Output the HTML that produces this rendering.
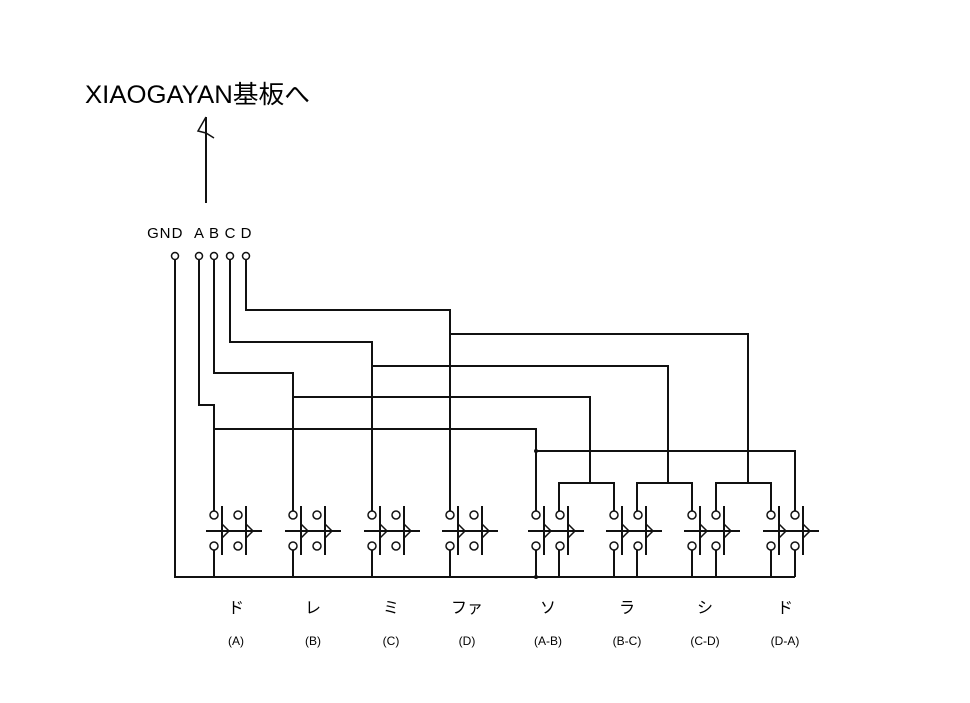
<!DOCTYPE html>
<html><head><meta charset="utf-8"><style>
html,body{margin:0;padding:0;background:#fff;}
svg{display:block;}
text{font-family:"Liberation Sans","Noto Sans CJK JP",sans-serif;fill:#000;}
</style></head><body>
<svg width="970" height="703" viewBox="0 0 970 703" xmlns="http://www.w3.org/2000/svg">
<defs>
<g id="sw" fill="none" stroke="#111" stroke-width="2">
  <line x1="-8" y1="0" x2="48" y2="0"/>
  <line x1="8" y1="-25" x2="8" y2="24"/>
  <line x1="32" y1="-25" x2="32" y2="24"/>
  <polyline points="8,-7 15,0 8,7" stroke-width="1.5"/>
  <polyline points="32,-7 39,0 32,7" stroke-width="1.5"/>
  <circle cx="0" cy="-16" r="4" stroke-width="1.5"/>
  <circle cx="0" cy="15" r="4" stroke-width="1.5"/>
  <circle cx="24" cy="-16" r="4" stroke-width="1.5"/>
  <circle cx="24" cy="15" r="4" stroke-width="1.5"/>
</g>
</defs>
<text x="85" y="103" font-size="25" textLength="225" lengthAdjust="spacingAndGlyphs">XIAOGAYAN基板へ</text>
<g fill="none" stroke="#111" stroke-width="2">
  <line x1="206" y1="117" x2="206" y2="203"/>
  <polyline points="206,117 198,131 206,133 214,138" stroke-width="1.5"/>
</g>
<g font-size="15" text-anchor="middle">
  <text x="153" y="238">G</text><text x="165" y="238">N</text><text x="177" y="238">D</text>
  <text x="199" y="238">A</text><text x="214" y="238">B</text><text x="230" y="238">C</text><text x="246" y="238">D</text>
</g>
<g fill="none" stroke="#111" stroke-width="1.5">
  <circle cx="175" cy="256" r="3.5"/><circle cx="199" cy="256" r="3.5"/><circle cx="214" cy="256" r="3.5"/><circle cx="230" cy="256" r="3.5"/><circle cx="246" cy="256" r="3.5"/>
</g>
<g fill="none" stroke="#111" stroke-width="2">
  <polyline points="175,260 175,577 795,577"/>
  <polyline points="199,260 199,405 214,405 214,511"/>
  <polyline points="214,429 536,429 536,511"/>
  <polyline points="536,451 795,451 795,511"/>
  <polyline points="214,260 214,373 293,373 293,511"/>
  <polyline points="293,397 590,397 590,483"/>
  <polyline points="230,260 230,342 372,342 372,511"/>
  <polyline points="372,366 668,366 668,483"/>
  <polyline points="246,260 246,310 450,310 450,511"/>
  <polyline points="450,334 748,334 748,483"/>
  <polyline points="559,511 559,483 614,483 614,511"/>
  <polyline points="637,511 637,483 692,483 692,511"/>
  <polyline points="716,511 716,483 771,483 771,511"/>
  <line x1="214" y1="550" x2="214" y2="577"/>
  <line x1="293" y1="550" x2="293" y2="577"/>
  <line x1="372" y1="550" x2="372" y2="577"/>
  <line x1="450" y1="550" x2="450" y2="577"/>
  <line x1="536" y1="550" x2="536" y2="577"/>
  <line x1="559" y1="550" x2="559" y2="577"/>
  <line x1="614" y1="550" x2="614" y2="577"/>
  <line x1="637" y1="550" x2="637" y2="577"/>
  <line x1="692" y1="550" x2="692" y2="577"/>
  <line x1="716" y1="550" x2="716" y2="577"/>
  <line x1="771" y1="550" x2="771" y2="577"/>
  <line x1="795" y1="550" x2="795" y2="577"/>
</g>
<circle cx="536" cy="451" r="2" fill="#111"/>
<circle cx="536" cy="577" r="2" fill="#111"/>
<use href="#sw" transform="translate(214,531)"/>
<use href="#sw" transform="translate(293,531)"/>
<use href="#sw" transform="translate(372,531)"/>
<use href="#sw" transform="translate(450,531)"/>
<use href="#sw" transform="translate(536,531)"/>
<use href="#sw" transform="translate(614,531)"/>
<use href="#sw" transform="translate(692,531)"/>
<use href="#sw" transform="translate(771,531)"/>
<g font-size="16" text-anchor="middle">
  <text x="236" y="613">ド</text>
  <text x="313" y="613">レ</text>
  <text x="391" y="613">ミ</text>
  <text x="467" y="613">ファ</text>
  <text x="548" y="613">ソ</text>
  <text x="627" y="613">ラ</text>
  <text x="705" y="613">シ</text>
  <text x="785" y="613">ド</text>
</g>
<g font-size="12" text-anchor="middle">
  <text x="236" y="645">(A)</text>
  <text x="313" y="645">(B)</text>
  <text x="391" y="645">(C)</text>
  <text x="467" y="645">(D)</text>
  <text x="548" y="645">(A-B)</text>
  <text x="627" y="645">(B-C)</text>
  <text x="705" y="645">(C-D)</text>
  <text x="785" y="645">(D-A)</text>
</g>
</svg>
</body></html>
